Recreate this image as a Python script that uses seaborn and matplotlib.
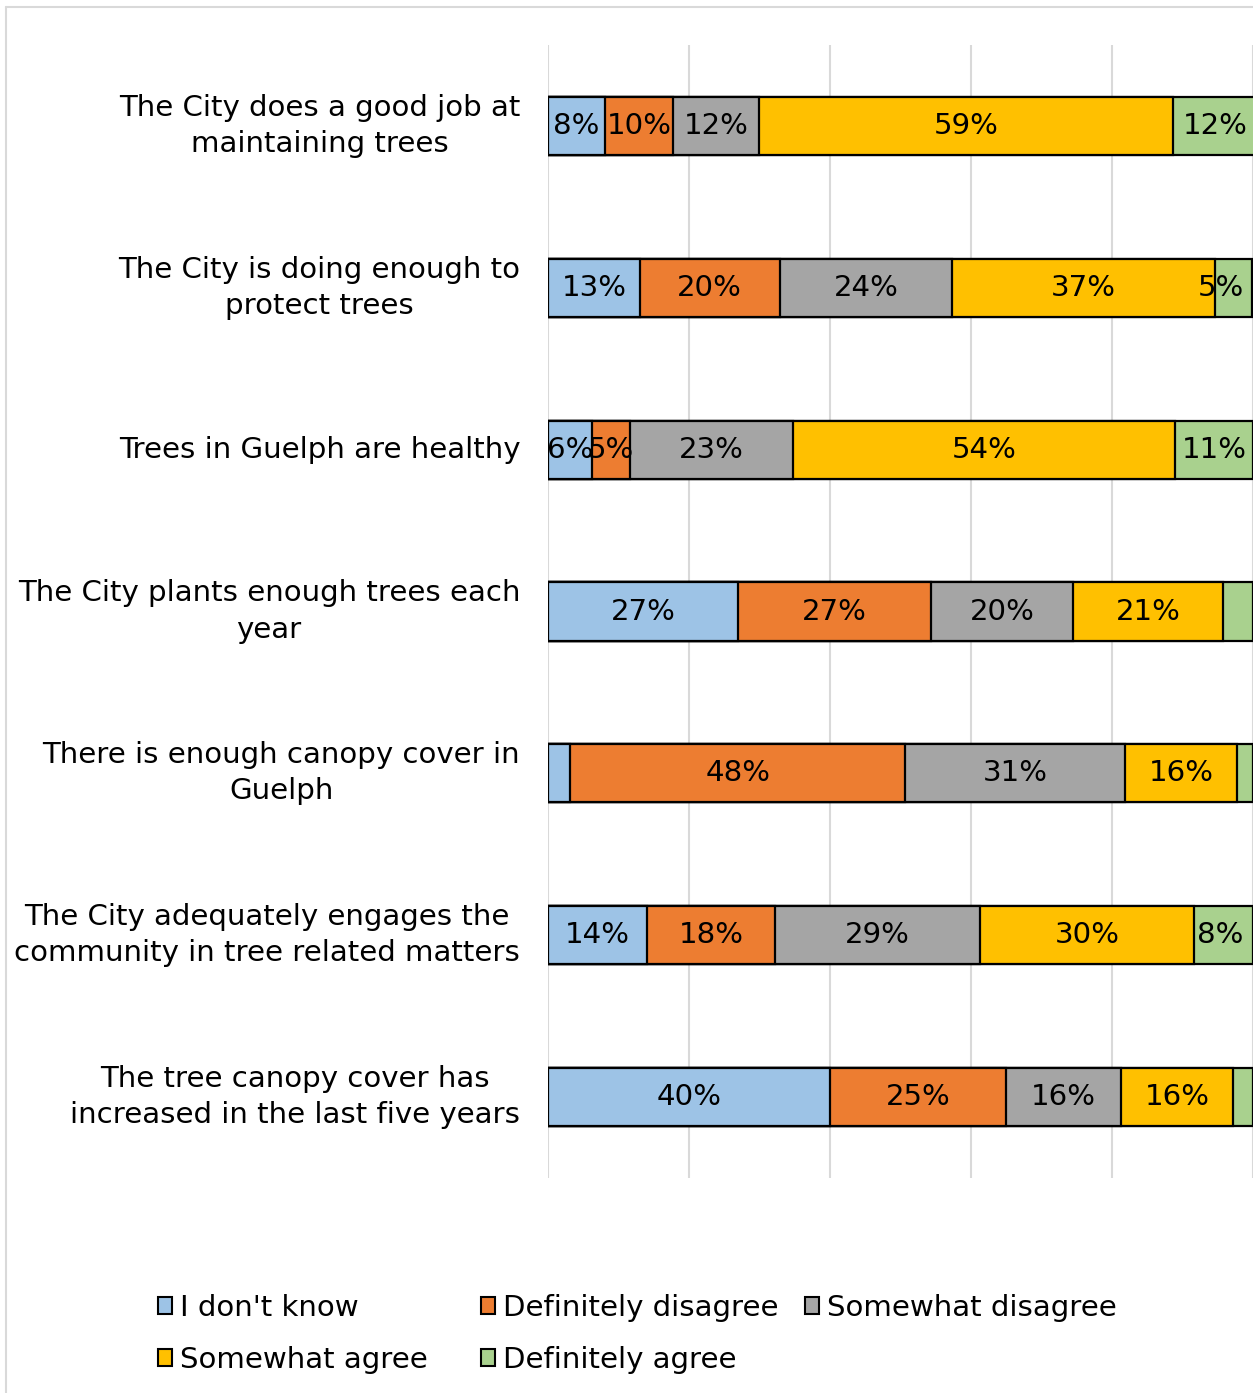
import matplotlib
matplotlib.use('Agg')
import matplotlib.pyplot as plt
import seaborn as sns
import pandas as pd
from matplotlib.patches import Patch
from matplotlib.lines import Line2D

# Survey statements (top to bottom)
statements = [
    'The City does a good job at\nmaintaining trees',
    'The City is doing enough to\nprotect trees',
    'Trees in Guelph are healthy',
    'The City plants enough trees each\nyear',
    'There is enough canopy cover in\nGuelph',
    'The City adequately engages the\ncommunity in tree related matters',
    'The tree canopy cover has\nincreased in the last five years',
]
responses = ["I don't know", 'Definitely disagree', 'Somewhat disagree',
             'Somewhat agree', 'Definitely agree']

# Percentages per response (labels are rounded)
dont_know = [8.1, 13.0, 6.2, 26.9, 3.1, 14.0, 40.0]
def_disagree = [9.6, 19.9, 5.4, 27.4, 47.6, 18.2, 25.0]
some_disagree = [12.2, 24.4, 23.2, 20.2, 31.1, 29.1, 16.3]
some_agree = [58.8, 37.3, 54.2, 21.3, 16.0, 30.3, 15.8]
def_agree = [12.0, 5.3, 11.0, 4.2, 2.2, 8.4, 2.9]

colors = ['#9DC3E6', '#ED7D31', '#A5A5A5', '#FFC000', '#A9D18E']

sns.set_style('white')
plt.rcParams['font.family'] = ['DejaVu Sans']
plt.rcParams['text.color'] = 'black'

df = pd.DataFrame({'statement': statements})
for name, vals in zip(responses, [dont_know, def_disagree, some_disagree, some_agree, def_agree]):
    df[name] = vals

# cumulative sums so the stacks can be drawn back to front
cum = df[responses].cumsum(axis=1)

W, H = 1253, 1393
fs = 21.1
fig = plt.figure(figsize=(W / 100, H / 100), dpi=100)
ax = fig.add_axes([548 / W, 1 - 1178 / H, (W - 548) / W, (1178 - 45) / H])

for i in range(len(responses) - 1, -1, -1):
    sns.barplot(x=cum[responses[i]], y=df['statement'], order=statements, orient='h',
                color=colors[i], saturation=1, width=0.36, edgecolor='black',
                linewidth=1.6, errorbar=None, ax=ax)

# data labels (segments under 5% are not labelled)
for row in range(len(statements)):
    left = 0
    for name in responses:
        v = df.loc[row, name]
        if v >= 5:
            xc = min(left + v / 2, 95.4)
            ax.text(xc, row, f'{v:.0f}%', ha='center', va='center', fontsize=fs, color='black')
        left += v

ax.set_xlim(0, (W - 548) / 7.075)
ax.set_ylim(6.5, -0.5)
ax.set_xticks([0, 20, 40, 60, 80, 100])
ax.set_xticklabels([])
ax.set_xlabel('')
ax.set_ylabel('')
ax.grid(axis='x', color='#d9d9d9', linewidth=1.5)
ax.grid(axis='y', visible=False)
ax.set_axisbelow(True)
for s in ax.spines.values():
    s.set_visible(False)
ax.tick_params(axis='x', length=0)
ax.tick_params(axis='y', length=0, pad=20, labelsize=fs, labelcolor='black')
for lbl in ax.get_yticklabels():
    lbl.set_multialignment('center')
    lbl.set_linespacing(1.37)
    lbl.set_va('center')

# legend: three columns placed like the original
legend_cols = [[0, 3], [1, 4], [2]]
col_x = [158, 481, 805]
for idxs, x in zip(legend_cols, col_x):
    handles = [Patch(facecolor=colors[k], edgecolor='black', linewidth=1.5) for k in idxs]
    fig.legend(handles, [responses[k] for k in idxs], loc='upper left',
               bbox_to_anchor=(x / W, 1 - 1294 / H), frameon=False, fontsize=fs,
               handlelength=0.48, handleheight=0.48, handletextpad=0.27,
               borderpad=0, borderaxespad=0, labelspacing=0.82, labelcolor='black')

# chart area border
fig.add_artist(Line2D([6 / W, 6 / W], [0, 1 - 7 / H], transform=fig.transFigure,
                      color='#d9d9d9', linewidth=1.5))
fig.add_artist(Line2D([6 / W, 1], [1 - 7 / H, 1 - 7 / H], transform=fig.transFigure,
                      color='#d9d9d9', linewidth=1.5))

fig.savefig('out.png', dpi=100)
